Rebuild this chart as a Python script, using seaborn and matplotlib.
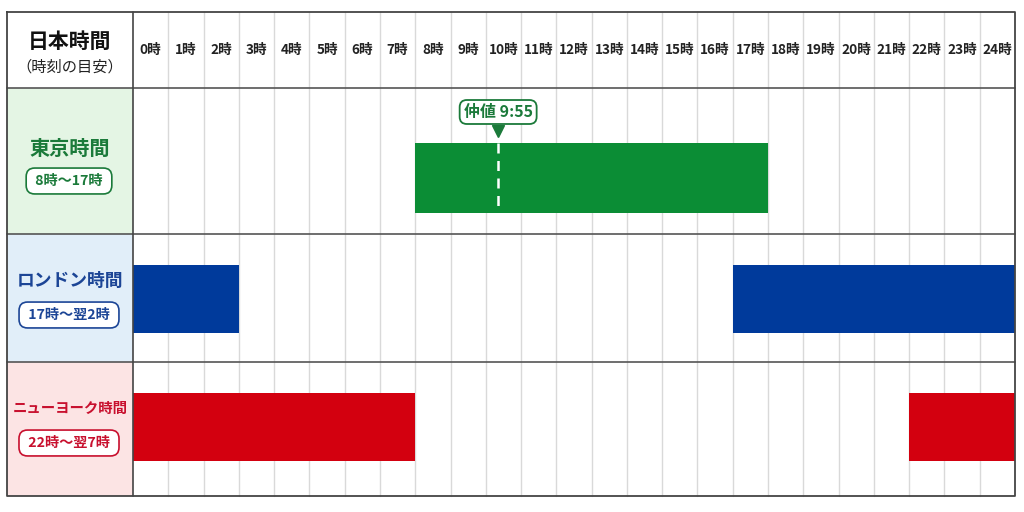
import seaborn as sns
import matplotlib.pyplot as plt

# data
hours = list(range(25))
hour_labels = [f"{h}時" for h in hours]
sessions = ["東京時間", "ロンドン時間", "ニューヨーク時間"]
session_ranges = ["8時〜17時", "17時〜翌2時", "22時〜翌7時"]
# inclusive hour columns covered by each session
tokyo_blocks = [(8, 17)]
london_blocks = [(0, 2), (17, 24)]
ny_blocks = [(0, 7), (22, 24)]
nakane_label = "仲値 9:55"
nakane_pos = 10.35  # where the marker sits on the hour grid

sns.set_theme(style="white")
plt.rcParams['font.family'] = ['Noto Sans CJK JP', 'DejaVu Sans']

bar_colors = ["#0b8d35", "#003a9b", "#d3000f"]
text_colors = ["#1b7a3a", "#1c4596", "#c8102e"]
bg_colors = ["#e4f5e4", "#e1eef9", "#fce4e4"]

# layout in pixels
col_w = 35.28
x0_px = 133


def px(x):
    return (x - x0_px) / col_w


fig = plt.figure(figsize=(10.24, 5.12), dpi=100)
ax = fig.add_axes([0, 0, 1, 1])
ax.set_xlim(px(0), px(1024))
ax.set_ylim(512, 0)
ax.axis("off")

top, bottom = 12, 496
row_edges = [88, 234, 362, 496]
row_bars = [(178, 70), (299, 68), (427, 68)]
left = px(7)
right = 25

# left column backgrounds
for i in range(3):
    ax.fill_between([left, 0], row_edges[i], row_edges[i + 1], color=bg_colors[i], lw=0, zorder=0)

# vertical light grid
for h in hours[1:]:
    ax.plot([h, h], [top, bottom], color="#d9d9d9", lw=1, zorder=1)

# bars
blocks = [tokyo_blocks, london_blocks, ny_blocks]
for i, segs in enumerate(blocks):
    yc, hgt = row_bars[i]
    for s, e in segs:
        ax.barh(yc, e - s + 1, left=s, height=hgt, color=bar_colors[i], lw=0, zorder=2)

# row separators and frame
for y in row_edges[:-1]:
    ax.plot([left, right], [y, y], color="#555555", lw=1.2, zorder=3)
ax.plot([0, 0], [top, bottom], color="#444444", lw=1.2, zorder=3)
ax.plot([left, right, right, left, left], [top, top, bottom, bottom, top], color="#444444", lw=1.3, zorder=3)

# header
ax.text(px(70), 41, "日本時間", ha="center", va="center", fontsize=15, fontweight="bold", color="#111111")
ax.text(px(70), 67, "（時刻の目安）", ha="center", va="center", fontsize=11, color="#222222")
for h, lab in zip(hours, hour_labels):
    ax.text(h + 0.5, 50, lab, ha="center", va="center", fontsize=9.8, fontweight="bold", color="#222222")

# session labels
name_y = [148, 281, 409]
range_y = [181, 315, 443]
name_sizes = [14.5, 12.8, 10.4]
for i in range(3):
    ax.text(px(70), name_y[i], sessions[i], ha="center", va="center", fontsize=name_sizes[i],
            fontweight="bold", color=text_colors[i])
    ax.text(px(69), range_y[i], " " + session_ranges[i] + " ", ha="center", va="center", fontsize=10.2,
            fontweight="bold", color=text_colors[i],
            bbox=dict(boxstyle="round,pad=0.42,rounding_size=0.6", fc="white", ec=text_colors[i], lw=1.2))

# nakane marker
ax.text(nakane_pos, 112, nakane_label, ha="center", va="center", fontsize=11.5, fontweight="bold",
        color=text_colors[0], zorder=5,
        bbox=dict(boxstyle="round,pad=0.25,rounding_size=0.45", fc="white", ec=text_colors[0], lw=1.3))
ax.plot([nakane_pos], [131], marker="v", markersize=8, color=text_colors[0], zorder=5)
ax.plot([nakane_pos, nakane_pos], [143, 213], color="white", lw=1.8, ls=(0, (4, 3)), zorder=4)

fig.savefig("out.png", dpi=100)
